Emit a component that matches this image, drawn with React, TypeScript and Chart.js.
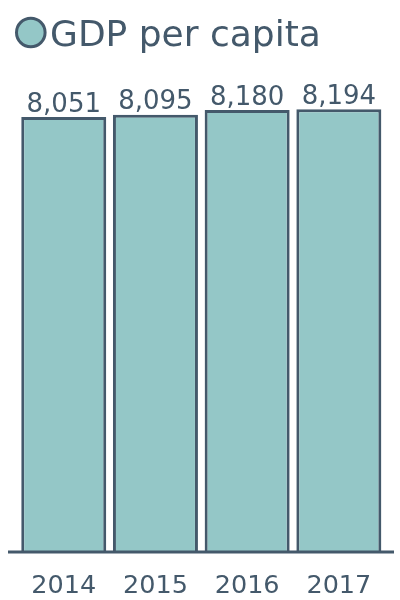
import React, { useEffect, useRef } from "react";
import { Chart, registerables } from "chart.js";

Chart.register(...registerables);

const categories = ["2014", "2015", "2016", "2017"];
const gdpPerCapita = [8051, 8095, 8180, 8194];
const seriesLabel = "GDP per capita";

const TEXT = "#44596b";
const FILL = "#94c7c7";
const FONT = "'DejaVu Sans', sans-serif";

const extras = {
  id: "extras",
  afterDraw(chart: any) {
    const ctx = chart.ctx;
    const area = chart.chartArea;
    ctx.save();
    // baseline axis
    ctx.strokeStyle = TEXT;
    ctx.lineWidth = 3;
    ctx.beginPath();
    ctx.moveTo(8, area.bottom);
    ctx.lineTo(394, area.bottom);
    ctx.stroke();
    // data labels
    const meta = chart.getDatasetMeta(0);
    ctx.fillStyle = TEXT;
    ctx.font = `26px ${FONT}`;
    ctx.textAlign = "center";
    ctx.textBaseline = "alphabetic";
    meta.data.forEach((bar: any, i: number) => {
      const v = chart.data.datasets[0].data[i] as number;
      ctx.fillText(v.toLocaleString("en-US"), bar.x, bar.y - 5.5);
    });
    // legend
    ctx.beginPath();
    ctx.arc(30.8, 32.5, 14.3, 0, Math.PI * 2);
    ctx.fillStyle = FILL;
    ctx.fill();
    ctx.lineWidth = 3;
    ctx.strokeStyle = TEXT;
    ctx.stroke();
    ctx.fillStyle = TEXT;
    ctx.font = `36px ${FONT}`;
    ctx.textAlign = "left";
    ctx.fillText(seriesLabel, 50, 46);
    ctx.restore();
  },
};

export default function App() {
  const ref = useRef<HTMLCanvasElement>(null);
  useEffect(() => {
    if (!ref.current) return;
    const chart = new Chart(ref.current, {
      type: "bar",
      data: {
        labels: categories,
        datasets: [
          {
            label: seriesLabel,
            data: gdpPerCapita,
            backgroundColor: FILL,
            borderColor: TEXT,
            borderWidth: 3,
            barPercentage: 0.927,
            categoryPercentage: 1,
          },
        ],
      },
      options: {
        animation: false,
        responsive: true,
        maintainAspectRatio: false,
        layout: { padding: { top: 109, left: 17.9, right: 15.3, bottom: 0 } },
        plugins: { legend: { display: false }, tooltip: { enabled: false } },
        scales: {
          x: {
            grid: { display: false, drawTicks: false },
            border: { display: false },
            ticks: { color: TEXT, font: { family: FONT, size: 25.5 }, padding: 19 },
            afterFit: (s: any) => {
              s.height = 48;
            },
          },
          y: { display: false, min: 0, max: 8200 },
        },
      },
      plugins: [extras],
    });
    return () => chart.destroy();
  }, []);
  return (
    <div style={{ position: "absolute", left: 0, top: 0, width: 400, height: 600 }}>
      <canvas ref={ref} />
    </div>
  );
}
